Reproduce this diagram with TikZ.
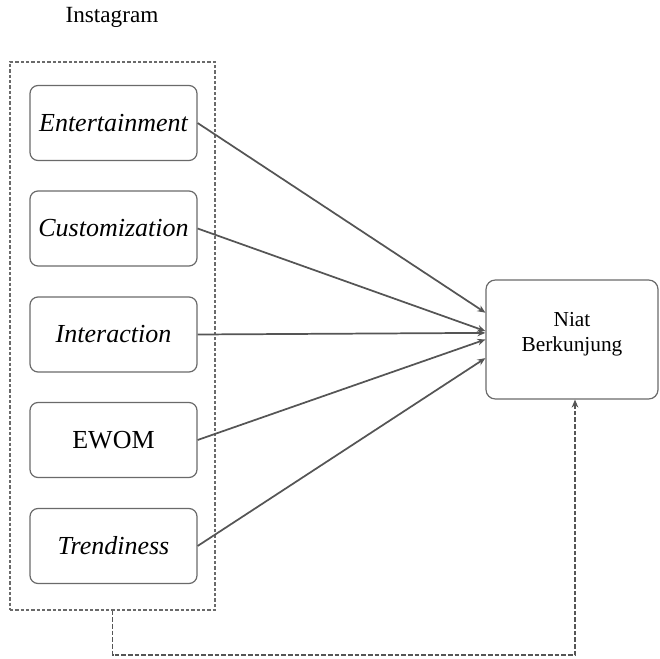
\documentclass[tikz,border=0pt]{standalone}
\usepackage{fontspec}
\setmainfont{Liberation Serif}
\usetikzlibrary{arrows.meta,calc}
\definecolor{linegray}{HTML}{555555}
\definecolor{boxgray}{HTML}{6A6A6A}
\begin{document}
\begin{tikzpicture}[x=0.75pt,y=-0.75pt,
  varbox/.style={draw=boxgray,line width=0.9pt,rounded corners=6pt,minimum width=167*0.75pt,minimum height=75*0.75pt,inner sep=0pt,font=\fontsize{19.5}{23}\selectfont},
  arr/.style={draw=linegray,line width=1.3pt,-{Stealth[length=6pt,width=5pt]}},
  fb/.style={draw=linegray,line width=1.2pt,dash pattern=on 3.5pt off 1.5pt}]
\useasboundingbox (0,0) rectangle (660,659);
\node[font=\fontsize{17.4}{20}\selectfont] (title) at (112,17) {Instagram};
\node[draw=boxgray,line width=0.8pt,dash pattern=on 2.5pt off 1.5pt,minimum width=205*0.75pt,minimum height=548*0.75pt,inner sep=0pt] (outer) at (112.5,336) {};
\node[varbox] (ent) at (113.5,123) {\itshape Entertainment};
\node[varbox] (cus) at (113.5,228.5) {\itshape Customization};
\node[varbox] (int) at (113.5,334.5) {\itshape Interaction};
\node[varbox] (ewom) at (113.5,440) {EWOM};
\node[varbox] (tre) at (113.5,546) {\itshape Trendiness};
\node[draw=boxgray,line width=0.9pt,rounded corners=7pt,minimum width=172*0.75pt,minimum height=119*0.75pt,inner sep=0pt] (niat) at (572,339.5) {};
\node[align=center,font=\fontsize{16}{18.75}\selectfont] (niattext) at (572,334) {Niat\\Berkunjung};
\draw[arr] (ent.east) -- ($(niat.north west)!0.277!(niat.south west)$);
\draw[arr] (cus.east) -- ($(niat.north west)!0.43!(niat.south west)$);
\draw[arr] (int.east) -- ($(niat.north west)!0.445!(niat.south west)$);
\draw[arr] (ewom.east) -- ($(niat.north west)!0.50!(niat.south west)$);
\draw[arr] (tre.east) -- ($(niat.north west)!0.655!(niat.south west)$);
\coordinate (fbcorner) at (575,655);
\draw[fb,-{Stealth[length=6pt,width=5pt]}] (outer.south) |- (fbcorner) -- (fbcorner |- niat.south);
\end{tikzpicture}
\end{document}
